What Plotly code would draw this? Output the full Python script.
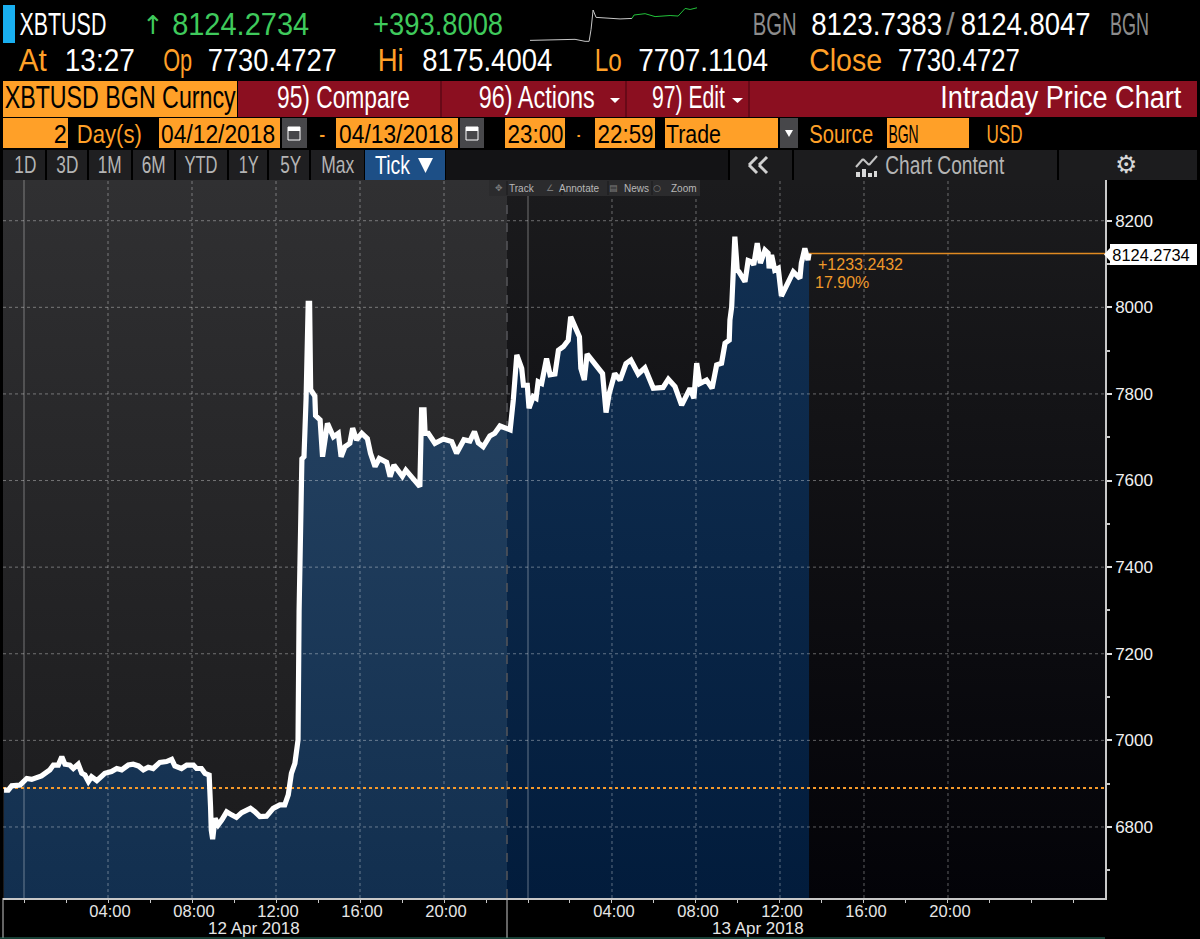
import json
import pandas as pd
import plotly.graph_objects as go

# ---------- data ----------
minutes = [-57,-45,-35,-11,8,22,50,74,84,98,108,117,131,141,155,165,174,184,193,208,231,250,265,279,298,312,327,341,355,369,388,407,422,431,450,465,484,493,507,517,529,531,533,535,539,546,555,565,579,593,607,622,636,647,660,674,693,712,731,745,755,764,774,779,783,786,791,794,800,806,812,816,819,831,833,846,853,861,867,884,898,906,917,931,939,950,965,981,990,1003,1015,1036,1046,1057,1081,1091,1117,1131,1136,1143,1146,1155,1174,1198,1222,1236,1257,1274,1287,1298,1312,1331,1345,1360,1380,1389,1398,1408,1422,1427,1438,1443,1455,1463,1469,1479,1493,1503,1517,1527,1541,1555,1562,1577,1587,1591,1601,1609,1627,1646,1653,1663,1672,1688,1703,1720,1734,1755,1774,1798,1826,1841,1860,1879,1903,1914,1922,1931,1950,1966,1979,1993,2003,2015,2017,2022,2026,2031,2038,2043,2060,2069,2079,2085,2095,2104,2117,2126,2129,2136,2145,2155,2164,2179,2198,2217,2221,2231,2240,2243]
prices = [6885,6885,6895,6897,6912,6910,6918,6932,6943,6943,6962,6945,6943,6935,6945,6924,6920,6905,6916,6907,6924,6928,6935,6932,6943,6945,6941,6932,6938,6935,6949,6951,6956,6941,6935,6943,6943,6935,6935,6924,6920,6901,6847,6793,6772,6820,6805,6816,6835,6828,6822,6833,6838,6843,6835,6824,6825,6843,6851,6851,6874,6924,6947,6978,7001,7300,7500,7650,7655,7790,8009,8009,7810,7795,7750,7740,7655,7700,7732,7701,7709,7655,7678,7686,7721,7694,7709,7697,7663,7632,7651,7642,7609,7636,7610,7624,7601,7586,7763,7763,7709,7709,7686,7696,7690,7663,7694,7691,7713,7687,7678,7703,7709,7726,7720,7717,7786,7890,7859,7820,7820,7767,7794,7790,7828,7824,7882,7844,7846,7901,7909,7924,7978,7951,7932,7859,7832,7892,7874,7851,7847,7757,7801,7847,7832,7870,7878,7846,7860,7813,7815,7834,7817,7774,7813,7790,7871,7824,7832,7813,7867,7871,7917,7924,7971,8001,8086,8163,8086,8082,8059,8108,8105,8098,8148,8102,8132,8125,8090,8121,8086,8090,8026,8048,8082,8067,8102,8136,8109,8124.27]
session_break = 1380
prev_close = 6890
spark_minutes_a = [-60,147,354,561,699,755,782,796,810,851,1182,1347]
spark_prices_a = [6885,6900,6925,6925,6850,6850,7300,7700,8040,7760,7700,7720]
spark_minutes_b = [1347,1375,1527,1665,1872,1983,2079,2148,2243]
spark_prices_b = [7720,7850,7900,7790,7830,7810,8100,8060,8124]
y_ticks = [6800,7000,7200,7400,7600,7800,8000,8200]
x_tick_minutes = [240,480,720,960,1200,1680,1920,2160,2400,2640]
midnights = [0,1440]

W, H = 1200, 939
BASE = pd.Timestamp("2018-04-12")
def ts(m): return [BASE + pd.Timedelta(minutes=float(v)) for v in m]
def X(px): return px / W
def Y(px): return 1 - px / H
X_START, X_END = -60, 3088.6
Y_MIN, Y_MAX = 6636, 8294
ORANGE = "#ffa028"; GREEN = "#3fca5c"; RED = "#8b0f20"; HEAD = "Liberation Sans"

fig = go.Figure()

def area(xm, ym, c0, c1, start, stop):
    fig.add_trace(go.Scatter(x=ts(xm), y=ym, mode="none", fill="toself", hoverinfo="skip",
        fillgradient=dict(type="vertical", start=start, stop=stop, colorscale=[[0, c0], [1, c1]]), showlegend=False))

# backgrounds
area([X_START, session_break, session_break, X_START], [Y_MIN, Y_MIN, Y_MAX, Y_MAX], "#1a1a1c", "#303032", Y_MIN, Y_MAX)
area([session_break, X_END, X_END, session_break], [Y_MIN, Y_MIN, Y_MAX, Y_MAX], "#030308", "#1b1b1d", Y_MIN, Y_MAX)
# filled price area
li = [i for i, m in enumerate(minutes) if m <= session_break]
ri = [i for i, m in enumerate(minutes) if m >= session_break]
lx = [minutes[i] for i in li]; ly = [prices[i] for i in li]
rx = [minutes[i] for i in ri]; ry = [prices[i] for i in ri]
area([lx[0]] + lx + [lx[-1]], [Y_MIN] + ly + [Y_MIN], "#122f4f", "#264362", Y_MIN, 8000)
area([rx[0]] + rx + [rx[-1]], [Y_MIN] + ry + [Y_MIN], "#021c3c", "#123052", Y_MIN, 8200)

# grid
gx, gy = [], []
for m in x_tick_minutes:
    gx += [BASE + pd.Timedelta(minutes=m), BASE + pd.Timedelta(minutes=m), None]; gy += [Y_MIN, Y_MAX, None]
fig.add_trace(go.Scatter(x=gx, y=gy, mode="lines", line=dict(color="rgba(255,255,255,0.36)", width=1, dash="dot"), hoverinfo="skip", showlegend=False))
hx, hy = [], []
for v in y_ticks:
    hx += [BASE + pd.Timedelta(minutes=X_START), BASE + pd.Timedelta(minutes=X_END), None]; hy += [v, v, None]
fig.add_trace(go.Scatter(x=hx, y=hy, mode="lines", line=dict(color="rgba(255,255,255,0.36)", width=1, dash="dot"), hoverinfo="skip", showlegend=False))
mx, my = [], []
for m in midnights:
    mx += [BASE + pd.Timedelta(minutes=m), BASE + pd.Timedelta(minutes=m), None]; my += [Y_MIN, Y_MAX, None]
fig.add_trace(go.Scatter(x=mx, y=my, mode="lines", line=dict(color="rgba(255,255,255,0.38)", width=1), hoverinfo="skip", showlegend=False))
fig.add_trace(go.Scatter(x=ts([session_break, session_break]), y=[Y_MIN, Y_MAX], mode="lines", line=dict(color="#55555a", width=1.5, dash="dash"), hoverinfo="skip", showlegend=False))

# reference lines
fig.add_trace(go.Scatter(x=ts([X_START, X_END]), y=[prev_close, prev_close], mode="lines", line=dict(color="#f5992a", width=2, dash="dot"), showlegend=False))
fig.add_trace(go.Scatter(x=ts([minutes[-1], X_END]), y=[prices[-1], prices[-1]], mode="lines", line=dict(color="#e08a22", width=1.4), showlegend=False))
# price line
fig.add_trace(go.Scatter(x=ts(minutes), y=prices, mode="lines", line=dict(color="white", width=5.2), showlegend=False, name="XBTUSD"))
# sparkline
fig.add_trace(go.Scatter(x=ts(spark_minutes_a), y=spark_prices_a, xaxis="x2", yaxis="y2", mode="lines", line=dict(color="#c8c8c8", width=1), showlegend=False))
fig.add_trace(go.Scatter(x=ts(spark_minutes_b), y=spark_prices_b, xaxis="x2", yaxis="y2", mode="lines", line=dict(color="#22c23a", width=1), showlegend=False))

shapes = []
def rect(x0, y0, x1, y1, fill, line=None):
    shapes.append(dict(type="rect", xref="paper", yref="paper", x0=X(x0), x1=X(x1), y0=Y(y0), y1=Y(y1), fillcolor=fill, line=dict(width=1 if line else 0, color=line or fill), layer="above"))
def seg(x0, y0, x1, y1, color, w=1):
    shapes.append(dict(type="line", xref="paper", yref="paper", x0=X(x0), x1=X(x1), y0=Y(y0), y1=Y(y1), line=dict(color=color, width=w), layer="above"))
def tri(x0, y0, x1, y1, x2, y2, color):
    shapes.append(dict(type="path", xref="paper", yref="paper", layer="above", fillcolor=color, line=dict(width=0),
        path=f"M {X(x0)} {Y(y0)} L {X(x1)} {Y(y1)} L {X(x2)} {Y(y2)} Z"))

# header blocks
rect(3, 5, 15, 43, "#19aff0")
rect(3, 81, 237, 117, ORANGE)
rect(238, 81, 1197, 117, RED)
for sx in (441, 626, 749):
    seg(sx, 81, sx, 117, "#5c0814", 1.5)
for a, b in [(3, 68), (159, 280), (336, 458), (505, 565), (595, 655), (665, 778), (887, 969)]:
    rect(a, 118, b, 148, ORANGE)
for a, b in [(282, 307), (460, 484), (780, 798)]:
    rect(a, 118, b, 148, "#47474a")
for a in (288, 466):
    rect(a, 127, a + 12, 140, "rgba(0,0,0,0)", "#ffffff")
    rect(a, 127, a + 12, 131, "#ffffff")
tri(610, 98, 620, 98, 615, 103, "#ffffff")
tri(732, 98, 743, 98, 737.5, 103, "#ffffff")
tri(785, 130, 793, 130, 789, 137, "#ffffff")
# tabs
tab_edges = [(3, 45), (47, 87), (89, 131), (133, 174), (176, 227), (229, 267), (269, 309), (311, 364)]
for a, b in tab_edges:
    rect(a, 150, b, 180, "#1f1f21")
rect(365, 150, 445, 180, "#1d4f86")
tri(418, 158, 433, 158, 425.5, 173, "#ffffff")
rect(446, 150, 728, 180, "#131315")
rect(730, 150, 792, 180, "#1c1c1e")
rect(794, 150, 1057, 180, "#1c1c1e")
rect(1059, 150, 1197, 180, "#1c1c1e")
# collapse chevrons
for c in (757, 767):
    seg(c, 157, c - 8, 165, "#d0d0d0", 3); seg(c - 8, 165, c, 173, "#d0d0d0", 3)
# chart-content icon
seg(856, 167, 863, 159, "#c4c4c4", 2); seg(863, 159, 869, 165, "#c4c4c4", 2); seg(869, 165, 877, 156, "#c4c4c4", 2)
for a, b, t in [(856, 860, 172), (862, 866, 169), (868, 872, 173), (874, 877, 171)]:
    rect(a, t, b, 177, "#d8d8d8")
# toolbar
rect(489, 180, 700, 196, "#2b2b2d")
for sx in (507, 562, 608, 652):
    seg(sx, 181, sx, 195, "#1b1b1d", 1)
# axis-strip lines
seg(3, 898, 3, 938, "#c8c8c8", 1)
seg(507, 898, 507, 938, "#c8c8c8", 1)
seg(0, 938, 1105, 938, "#2f7f6a", 1)
# last price tag
rect(1110, 244, 1197, 265, "#ffffff")
tri(1104, 254.5, 1110, 248, 1110, 261, "#ffffff")

# header text: text, centre x, centre y, colour, size, target width
texts = [
    ("XBTUSD", 63, 24, "#ffffff", 32, 87),
    ("8124.2734", 240, 24, GREEN, 32, 137),
    ("+393.8008", 438, 24, GREEN, 32, 130),
    ("BGN", 774, 24, "#8c8c8c", 32, 44),
    ("8123.7383", 876, 24, "#ffffff", 32, 131),
    ("8124.8047", 1025, 24, "#ffffff", 32, 130),
    ("BGN ", 1132, 24, "#8c8c8c", 32, 44),
    ("At", 33, 61, ORANGE, 31, 28),
    ("13:27", 100, 61, "#ffffff", 31, 70),
    ("Op", 177, 61, ORANGE, 31, 29),
    ("7730.4727", 272, 61, "#ffffff", 31, 129),
    ("Hi", 391, 61, ORANGE, 31, 26),
    ("8175.4004", 487, 61, "#ffffff", 31, 130),
    ("Lo", 608, 61, ORANGE, 31, 27),
    ("7707.1104", 703, 61, "#ffffff", 31, 130),
    ("Close", 845, 61, ORANGE, 31, 73),
    ("7730.4727 ", 962, 61, "#ffffff", 31, 129),
    ("XBTUSD BGN Curncy", 120, 98, "#000000", 31, 231),
    ("95) Compare", 343, 98, "#ffffff", 31, 133),
    ("96) Actions", 536, 98, "#ffffff", 31, 116),
    ("97) Edit", 688, 98, "#ffffff", 31, 73),
    ("Intraday Price Chart", 1061, 98, "#ffffff", 31, 241),
    ("2", 60, 134, "#000000", 26, 13),
    ("Day(s)", 109, 134, ORANGE, 26, 65),
    ("04/12/2018", 218, 134, "#000000", 26, 114),
    ("-", 322, 134, ORANGE, 26, 6),
    ("04/13/2018", 396, 134, "#000000", 26, 114),
    ("23:00", 535, 134, "#000000", 26, 56),
    ("- ", 580, 134, ORANGE, 26, 6),
    ("22:59", 625, 134, "#000000", 26, 56),
    ("Trade", 693, 134, "#000000", 26, 55),
    ("Source", 841, 134, ORANGE, 26, 64),
    ("BGN  ", 907, 134, "#000000", 26, 38),
    ("USD", 1004, 134, ORANGE, 26, 36),
    ("1D", 25, 165, "#b4b4b4", 24, 22),
    ("3D", 67, 165, "#b4b4b4", 24, 22),
    ("1M", 110, 165, "#b4b4b4", 24, 24),
    ("6M", 153, 165, "#b4b4b4", 24, 24),
    ("YTD", 201, 165, "#b4b4b4", 24, 33),
    ("1Y", 248, 165, "#b4b4b4", 24, 20),
    ("5Y", 290, 165, "#b4b4b4", 24, 21),
    ("Max", 337, 165, "#b4b4b4", 24, 33),
    ("Tick", 392, 165, "#ffffff", 25, 35),
    ("Chart Content", 945, 165, "#b4b4b4", 25, 119),
]
annotations = []
def note(text, x, y, color, size, family=HEAD):
    annotations.append(dict(text=text, x=X(x), y=Y(y), xref="paper", yref="paper", showarrow=False, xanchor="center", yanchor="middle",
                            font=dict(family=family, size=size, color=color), borderpad=0, borderwidth=0))
widths = {}
for t, x, y, c, s, w in texts:
    note(t, x, y, c, s)
    widths[t] = w

SYM = "DejaVu Sans"
note("↑", 153, 25, GREEN, 26, SYM)
note("/", 950, 24, "#8c8c8c", 31)
note("⚙", 1126, 165, "#d8d8d8", 25, SYM)
for t, x in [("Track", 522), ("Annotate", 579), ("News", 636), ("Zoom", 684)]:
    note(t, x, 188, "#b8b8b8", 10, "Liberation Sans")
for g, x in [("✥", 499), ("∠", 550), ("▤", 613), ("○", 657)]:
    note(g, x, 188, "#7c7c7c", 9, SYM)
note("+1233.2432", 860, 264, "#f09a2a", 16, "Liberation Sans")
note("17.90%", 842, 283, "#f09a2a", 16, "Liberation Sans")
note("8124.2734 ", 1153, 255, "#000000", 16.5, "Liberation Sans")
widths["8124.2734 "] = 82
note("12 Apr 2018", 254, 928, "#e6e6e6", 17, "Liberation Sans")
note("13 Apr 2018", 758, 928, "#e6e6e6", 17, "Liberation Sans")

fig.update_layout(
    width=W, height=H, margin=dict(l=0, r=0, t=0, b=0), paper_bgcolor="#000000", plot_bgcolor="#000000",
    showlegend=False, shapes=shapes, annotations=annotations, hovermode=False,
    xaxis=dict(type="date", domain=[X(3), X(1105)], range=[BASE + pd.Timedelta(minutes=X_START), BASE + pd.Timedelta(minutes=X_END)],
               tickmode="array", tickvals=ts(x_tick_minutes), tickformat="%H:%M", showgrid=False, zeroline=False,
               showline=True, linecolor="#c8c8c8", linewidth=1.5, ticks="outside", ticklen=3, tickcolor="#c8c8c8",
               ticklabelstandoff=-6, ticklabelshift=2,
               tickfont=dict(family="Liberation Sans", size=16.5, color="#e6e6e6"),
               minor=dict(dtick=7200000, tick0="2018-04-12", ticks="outside", ticklen=3, tickcolor="#c8c8c8", showgrid=False)),
    yaxis=dict(domain=[Y(898), Y(180)], range=[Y_MIN, Y_MAX], side="right", tickmode="array", tickvals=y_ticks, showgrid=False, zeroline=False,
               showline=True, linecolor="#c8c8c8", linewidth=1.5, ticks="outside", ticklen=5, tickwidth=2, tickcolor="#e0e0e0",
               tickfont=dict(family="Liberation Sans", size=17, color="#f0f0f0"), tickformat="d",
               minor=dict(dtick=100, tick0=6800, ticks="outside", ticklen=3, tickcolor="#c8c8c8", showgrid=False)),
    xaxis2=dict(domain=[X(530), X(697)], range=[BASE + pd.Timedelta(minutes=-60), BASE + pd.Timedelta(minutes=2243)], visible=False, anchor="y2", type="date"),
    yaxis2=dict(domain=[Y(43), Y(5)], range=[6786, 8230], visible=False, anchor="x2"),
)

post = """
var W=%s;
function fit(){
  document.body.style.margin='0';document.body.style.background='#000';document.documentElement.style.overflow='hidden';
  document.querySelectorAll('.annotation-text').forEach(function(el){
    var k=el.getAttribute('data-unformatted');
    if(W[k] && !el.__fit){
      el.__fit=true;
      el.setAttribute('textLength',W[k]);el.setAttribute('lengthAdjust','spacingAndGlyphs');
      var r=el.parentNode.querySelector('rect.bg');
      if(r){var w=parseFloat(r.getAttribute('width'));var x=parseFloat(r.getAttribute('x'))||0;
        r.setAttribute('x',x+(w-W[k])/2);r.setAttribute('width',W[k]);}
    }
  });
}
fit();setTimeout(fit,50);setTimeout(fit,300);
""" % json.dumps(widths)
fig.write_html("out.html", post_script=post, config=dict(displayModeBar=False))
